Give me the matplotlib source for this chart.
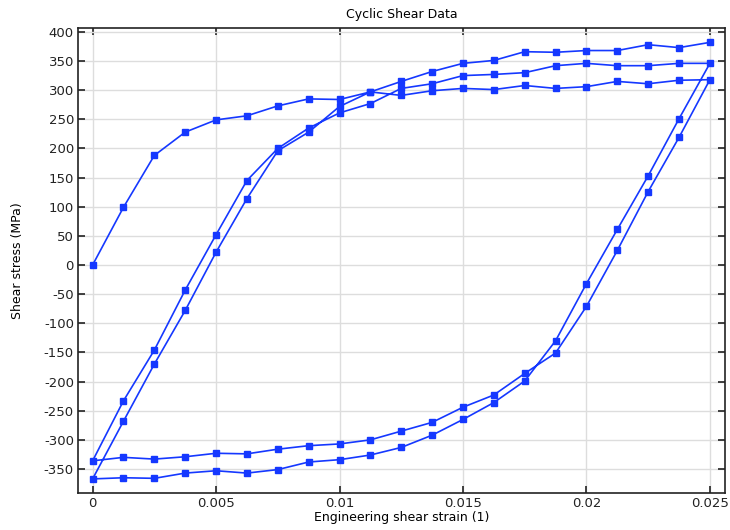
import matplotlib
matplotlib.use("Agg")
import matplotlib.pyplot as plt
import numpy as np

plt.rcParams['font.family'] = ['DejaVu Sans']
plt.rcParams['axes.unicode_minus'] = False

# strain steps (21 points per branch, 0 -> 0.025)
strain_up = [i * 0.00125 for i in range(21)]
strain_down = strain_up[::-1]

# initial loading
load0 = [0, 99, 188, 228, 249, 256, 273, 285, 284, 297, 291, 299, 303, 301, 308, 303, 306, 315, 311, 317, 318]
# first unloading (0.025 -> 0)
unload1 = [318, 219, 126, 25, -71, -151, -186, -223, -244, -270, -285, -300, -307, -310, -316, -324, -323, -329, -333, -330, -336]
# first reloading (0 -> 0.025)
reload1 = [-336, -233, -146, -43, 52, 145, 200, 235, 261, 277, 303, 311, 325, 327, 330, 342, 346, 342, 342, 346, 346]
# second unloading (0.025 -> 0)
unload2 = [346, 251, 153, 61, -32, -130, -199, -236, -265, -292, -313, -326, -334, -338, -351, -357, -353, -357, -366, -365, -367]
# second reloading (0 -> 0.025)
reload2 = [-367, -268, -170, -78, 22, 114, 196, 228, 272, 297, 315, 332, 346, 351, 366, 365, 368, 368, 378, 373, 382]

x = strain_up + strain_down[1:] + strain_up[1:] + strain_down[1:] + strain_up[1:]
y = load0 + unload1[1:] + reload1[1:] + unload2[1:] + reload2[1:]

fig = plt.figure(figsize=(7.3, 5.3), dpi=100)
ax = fig.add_axes([0.107, 0.070, 0.886, 0.877])

color = '#1538ff'
ax.plot(x, y, color=color, lw=1.2, marker='s', markersize=4.8, markerfacecolor=color,
        markeredgecolor=color, zorder=3)

ax.set_xlim(-0.000587, 0.025607)
ax.set_ylim(-391, 406.5)
ax.set_xticks([0, 0.005, 0.01, 0.015, 0.02, 0.025])
ax.set_xticklabels(['0', '0.005', '0.01', '0.015', '0.02', '0.025'])
ax.set_yticks(np.arange(-350, 401, 50))

ax.grid(True, color='#dddddd', lw=1.0, zorder=0)
ax.set_axisbelow(True)
ax.tick_params(direction='in', top=True, right=True, length=5, width=1.2,
               labelsize=9.5, colors='#222222', pad=3)
ax.tick_params(axis='y', labelright=False)
for s in ax.spines.values():
    s.set_color('#222222')
    s.set_linewidth(1.2)

ax.set_title('Cyclic Shear Data', fontsize=9, pad=7)
ax.set_xlabel('Engineering shear strain (1)', fontsize=9, labelpad=1)
ax.set_ylabel('Shear stress (MPa)', fontsize=9, labelpad=14)

fig.savefig('out.png', dpi=100)
